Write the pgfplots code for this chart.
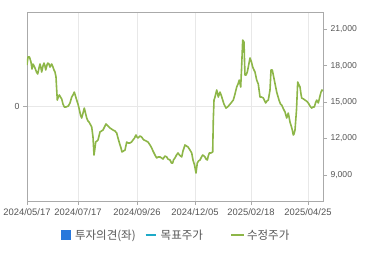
\documentclass[border=0pt]{standalone}
\usepackage{fontspec}
\setmainfont{Liberation Sans}
\newfontfamily\kr{Noto Sans CJK KR}
\usepackage{pgfplots}
\pgfplotsset{compat=1.18}
\definecolor{lgreen}{RGB}{141,182,72}
\definecolor{axgray}{RGB}{170,170,170}
\definecolor{gridgray}{RGB}{232,232,232}
\definecolor{txtgray}{RGB}{85,85,85}
\definecolor{lblue}{RGB}{40,120,220}
\definecolor{lteal}{RGB}{30,170,200}
\begin{document}
\begin{tikzpicture}
\begin{axis}[
 scale only axis, width=296pt, height=189pt,
 xmin=27, xmax=323, ymin=-1, ymax=1,
 xtick={27,78,137,195,251,308},
 xticklabels={2024/05/17,2024/07/17,2024/09/26,2024/12/05,2025/02/18,2025/04/25},
 ytick={0},
 grid=major, major grid style={gridgray, line width=0.6pt},
 axis line style={axgray, line width=0.8pt},
 tick style={axgray, line width=0.8pt},
 tick align=outside, major tick length=4pt,
 xtick pos=bottom, ytick pos=left,
 /pgf/number format/assume math mode=true,
 xticklabel style={font=\fontsize{9.4}{11}\selectfont, text=txtgray},
 yticklabel style={font=\fontsize{8.8}{11}\selectfont, text=txtgray},
 legend columns=3,
 legend style={at={(0.5,-0.18)}, anchor=center, draw=none, fill=none,
   inner sep=0pt, nodes={inner sep=0pt},
   font=\kr\fontsize{11.5}{13}\selectfont, text=txtgray},
]
\addlegendimage{legend image code/.code={\fill[lblue] (0pt,-4.5pt) rectangle (9pt,4.5pt);}}
\addlegendentry{\rule{5pt}{0pt}투자의견(좌)\rule{9pt}{0pt}}
\addlegendimage{legend image code/.code={\draw[lteal, line width=2pt] (0pt,0pt) -- (10pt,0pt);}}
\addlegendentry{\rule{4pt}{0pt}목표주가\rule{27pt}{0pt}}
\addlegendimage{legend image code/.code={\draw[lgreen, line width=2pt] (0pt,0pt) -- (13pt,0pt);}}
\addlegendentry{\rule{2pt}{0pt}수정주가}
\end{axis}
\begin{axis}[
 scale only axis, width=296pt, height=189pt,
 xmin=27, xmax=323, ymin=6850, ymax=22430,
 axis x line=none, axis y line*=right,
 ytick={9000,12000,15000,18000,21000},
 scaled y ticks=false,
 axis line style={axgray, line width=0.8pt},
 tick style={axgray, line width=0.8pt},
 tick align=outside, major tick length=4pt,
 /pgf/number format/assume math mode=true,
 /pgf/number format/1000 sep={,},
 yticklabel style={font=\fontsize{8.6}{11}\selectfont, text=txtgray},
]
\addplot[lgreen, line width=1.6pt, line join=round] table {
x y
27 18060
28 18720
29.5 18720
31 18300
32 17730
33 18140
34 17980
35 17810
36.5 17480
37.7 17320
39 17810
40 18140
41 17810
41.7 17480
43 17980
44 18220
45 17980
45.7 17650
47 18060
47.7 18220
49 18140
50 17890
51 18060
51.7 18140
53 17890
54 17650
55 17480
56 17070
56.7 16000
57.3 15170
58.3 15420
59.3 15590
60.5 15420
61.7 15260
63 14840
64.3 14600
66 14600
68.3 14680
70 14930
71.7 15420
73 15590
74.3 15830
75.5 15500
76.7 15170
78 14840
79 14510
80.5 13940
81.7 13690
83 14100
84.3 14510
85.5 14100
86.7 13690
88 13440
89 13360
90.7 13110
91.7 12950
92.5 12450
93 12120
94 10640
94.7 11050
95.7 11710
97 11800
98 11880
99 12210
100 12540
101.5 12620
103 12700
104.5 12950
106 13200
107 13110
108 13030
110 12870
113 12700
115 12620
116.7 12450
118 12040
120 11470
121 11220
122 10890
123.5 10970
125 11050
126.7 11710
128 11630
130 11630
131.5 11710
133 11880
134.5 12040
136 12290
137 12120
138 12040
140 12210
141.7 12120
143 11960
144 11880
146 11800
148 11710
150 11470
151.7 11220
153 10970
154 10810
155.5 10560
156.7 10400
158 10480
160 10480
161.5 10400
163 10310
165 10560
166.7 10480
168 10310
170 10230
171.5 9980
172.7 9980
173.5 10230
175 10400
176.5 10640
178 10810
179.5 10640
181.7 10480
183 10970
185 11470
186.5 11380
188 11300
190 11050
191.7 10810
193 10230
194.5 9820
196 9160
197.3 9980
198.5 10150
200 10230
201.5 10480
202.7 10640
204 10560
205 10480
206 10310
207.3 10230
208.3 10560
209.3 10810
211 10810
212.7 10890
213.3 13530
214 15170
215 15420
216.7 16000
217.5 15750
218.3 15420
219 15590
220 15830
221.5 15500
222.7 15170
224 14840
226 14510
227.5 14600
229.3 14760
231 14930
233.3 15170
235 15670
236.7 16250
238 16490
239.3 16820
240.7 16250
241.5 17650
242.7 20120
244 19950
244.5 18470
245 17230
246 17230
247.3 17480
248.5 17980
250 18640
251.5 18300
252.7 17890
254 17650
255 17480
256.7 16820
258.3 16490
260 15420
261.5 15420
263.3 15340
265.7 14930
267 15090
268.3 15170
270 16000
271 17650
272.3 17650
274.3 16820
275.5 16330
276.7 15830
279 15170
280.5 14840
281.7 14760
283.5 14430
285 14190
286.7 13690
288.3 14100
290 13360
291.5 12950
292.3 12700
293.3 12290
294 12370
295 12700
296.5 14350
297.7 16660
299 16410
300 16250
301 15670
301.7 15340
303.5 15260
305 15170
306.5 15090
308.3 14930
310 14680
311.7 14510
313 14600
314.3 14600
315.5 14930
316.7 15170
318.3 14930
319.5 15340
321 15830
322 16000
323 15920
};
\end{axis}
\pgfresetboundingbox
\path[use as bounding box] (-27pt,-54pt) rectangle (343pt,201pt);
\end{tikzpicture}
\end{document}
